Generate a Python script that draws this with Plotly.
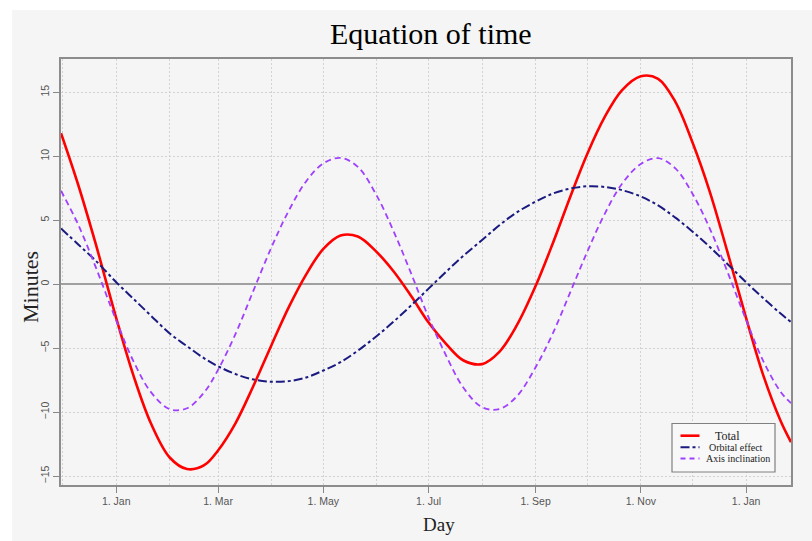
import plotly.graph_objects as go

dates = ["2022-11-30", "2022-12-10", "2022-12-20", "2023-01-01", "2023-01-11",
         "2023-01-21", "2023-02-01", "2023-02-11", "2023-02-21", "2023-03-01",
         "2023-03-11", "2023-03-21", "2023-04-01", "2023-04-11", "2023-04-21",
         "2023-05-01", "2023-05-11", "2023-05-21", "2023-06-01", "2023-06-11",
         "2023-06-21", "2023-07-01", "2023-07-11", "2023-07-21", "2023-08-01",
         "2023-08-11", "2023-08-21", "2023-09-01", "2023-09-11", "2023-09-21",
         "2023-10-01", "2023-10-11", "2023-10-21", "2023-11-01", "2023-11-11",
         "2023-11-21", "2023-12-01", "2023-12-11", "2023-12-21", "2024-01-01",
         "2024-01-11", "2024-01-21", "2024-01-27"]

total = [11.8, 7.75, 3.2, -2.65, -7.15,
         -10.85, -13.55, -14.45, -14.15, -13.0,
         -10.9, -8.1, -4.75, -1.8, 0.75,
         2.75, 3.8, 3.72, 2.5, 0.95,
         -0.95, -3.0, -4.65, -5.95, -6.25,
         -5.3, -3.25, -0.15, 3.2, 6.8,
         10.2, 13.05, 15.15, 16.25, 16.05,
         14.25, 11.05, 7.2, 2.6, -2.65,
         -7.15, -10.7, -12.35]

orbital = [4.35, 3.1, 1.85, 0.15, -1.15,
           -2.45, -3.85, -4.85, -5.8, -6.42,
           -7.02, -7.44, -7.63, -7.58, -7.3,
           -6.75, -6.1, -5.2, -4.05, -2.9,
           -1.65, -0.35, 0.95, 2.2, 3.45,
           4.6, 5.6, 6.45, 7.08, 7.47,
           7.65, 7.6, 7.35, 6.85, 6.15,
           5.2, 4.1, 2.9, 1.6, 0.15,
           -1.1, -2.3, -2.96]

inclination = [7.3, 4.64, 1.37, -2.84, -6.03,
               -8.42, -9.77, -9.7, -8.45, -6.7,
               -3.93, -0.67, 2.9, 5.75, 8.03,
               9.44, 9.87, 9.17, 6.9, 4.05,
               0.8, -2.6, -5.54, -8.06, -9.62,
               -9.76, -8.79, -6.5, -3.84, -0.66,
               2.55, 5.48, 7.83, 9.4, 9.85,
               9.05, 7.05, 4.33, 1.03, -2.8,
               -6.03, -8.42, -9.3]

series_names = ["Total", "Orbital effect", "Axis inclination"]
series_colors = ["#ff0000", "#1a1a80", "#a040ff"]
series_dash = ["solid", "dashdot", "6px,4px"]
series_width = [2.6, 2.0, 1.8]
series_values = [total, orbital, inclination]

fig = go.Figure()
for name, vals, col, dsh, wd in zip(series_names, series_values, series_colors,
                                    series_dash, series_width):
    fig.add_trace(go.Scatter(x=dates, y=vals, name=name, mode="lines",
                             line=dict(color=col, width=wd, dash=dsh,
                                       shape="spline", smoothing=1.0)))

W, H = 812, 541
L, R, T, B = 61, 791, 59, 485
pw, ph = R - L, B - T


def px(xp):
    return (xp - L) / pw


def py(yp):
    return (B - yp) / ph


# figure backdrop (white strip at top/left, light gray elsewhere)
fig.add_shape(type="rect", xref="paper", yref="paper",
              x0=px(12), x1=px(W + 5), y0=py(H + 5), y1=py(10),
              fillcolor="#f5f5f5", line=dict(width=0), layer="below")

serif = "Liberation Serif, Times New Roman, serif"
sans = "Liberation Sans, Arial, sans-serif"

# compact legend box like the reference
fig.add_shape(type="rect", xref="paper", yref="paper",
              x0=px(672), x1=px(775), y0=py(472), y1=py(423.5),
              fillcolor="#f8f8f8", line=dict(color="#808080", width=1.2))
legend_rows = [435.7, 447.3, 458.5]
legend_text_x = [727, 736, 737.5]
legend_font = [12, 10, 10]
for i, name in enumerate(series_names):
    fig.add_shape(type="line", xref="paper", yref="paper",
                  x0=px(680.5), x1=px(699.5), y0=py(legend_rows[i]), y1=py(legend_rows[i]),
                  line=dict(color=series_colors[i], width=series_width[i],
                            dash=series_dash[i] if i != 2 else "5px,4px"))
    fig.add_annotation(text=name, xref="paper", yref="paper",
                       x=px(legend_text_x[i]), y=py(legend_rows[i]),
                       xanchor="center", yanchor="middle", showarrow=False,
                       font=dict(family=serif, size=legend_font[i], color="#222"))

grid = dict(showgrid=True, gridcolor="#d2d2d2", griddash="2px,2px", gridwidth=1)

fig.update_layout(
    width=W, height=H,
    margin=dict(l=L, r=W - R, t=T, b=H - B),
    paper_bgcolor="white",
    plot_bgcolor="rgba(0,0,0,0)",
    showlegend=False,
    xaxis=dict(type="date", range=["2022-11-30", "2024-01-27"],
               tick0="2023-01-01", dtick="M2", tickformat="%-d. %b",
               ticks="outside", ticklen=6, tickcolor="#888", tickwidth=1,
               tickfont=dict(family=sans, size=10.5, color="#555"),
               minor=dict(dtick="M1", tick0="2023-01-01", ticks="", **grid),
               showline=True, linecolor="#8c8c8c", linewidth=1.5, mirror=True,
               zeroline=False, **grid),
    yaxis=dict(range=[-15.7, 17.6], tick0=0, dtick=5,
               ticks="outside", ticklen=6, tickcolor="#888", tickwidth=1,
               tickangle=-90,
               tickfont=dict(family=sans, size=10.5, color="#555"),
               showline=True, linecolor="#8c8c8c", linewidth=1.5, mirror=True,
               zeroline=True, zerolinecolor="#a0a0a0", zerolinewidth=1.5, **grid),
)

fig.add_annotation(text="Equation of time", xref="paper", yref="paper",
                   x=px(431), y=py(33), xanchor="center", yanchor="middle",
                   showarrow=False, font=dict(family=serif, size=30, color="black"))
fig.add_annotation(text="Day", xref="paper", yref="paper",
                   x=px(439), y=py(524), xanchor="center", yanchor="middle",
                   showarrow=False, font=dict(family=serif, size=19, color="#222"))
fig.add_annotation(text="Minutes", xref="paper", yref="paper",
                   x=px(30), y=py(287), xanchor="center", yanchor="middle",
                   showarrow=False, textangle=-90,
                   font=dict(family=serif, size=22, color="#222"))

fig.write_html("out.html", config={"displayModeBar": False},
               post_script="document.body.style.margin='0px';")
